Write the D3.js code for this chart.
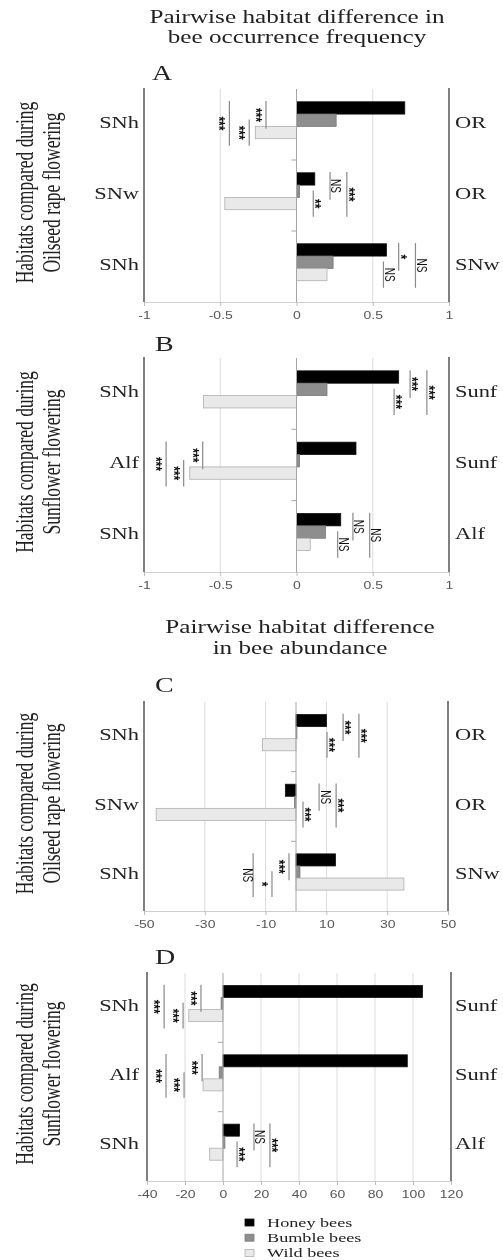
<!DOCTYPE html>
<html>
<head>
<meta charset="utf-8">
<script src="https://cdn.jsdelivr.net/npm/d3@7"></script>
<style>
    body { margin: 0; background: #ffffff; }
    svg { filter: grayscale(100%); }
</style>
</head>
<body>
<div id="chart"></div>
<script>
//Series (bar order inside each row, top to bottom)
var series = ["Honey bees", "Bumble bees", "Wild bees"];

//Panel A - occurrence frequency, oilseed rape flowering
var leftA = ["SNh", "SNw", "SNh"];
var rightA = ["OR", "OR", "SNw"];
var honeyA = [0.71, 0.12, 0.59];
var bumbleA = [0.26, 0.02, 0.24];
var wildA = [-0.27, -0.47, 0.20];
var ticksA = [-1, -0.5, 0, 0.5, 1];

//Panel B - occurrence frequency, sunflower flowering
var leftB = ["SNh", "Alf", "SNh"];
var rightB = ["Sunf", "Sunf", "Alf"];
var honeyB = [0.67, 0.39, 0.29];
var bumbleB = [0.20, 0.02, 0.19];
var wildB = [-0.61, -0.70, 0.09];
var ticksB = [-1, -0.5, 0, 0.5, 1];

//Panel C - abundance, oilseed rape flowering
var leftC = ["SNh", "SNw", "SNh"];
var rightC = ["OR", "OR", "SNw"];
var honeyC = [10, -3.5, 13];
var bumbleC = [0.3, -0.5, 1.3];
var wildC = [-11, -46, 35.5];
var ticksC = [-50, -30, -10, 10, 30, 50];

//Panel D - abundance, sunflower flowering
var leftD = ["SNh", "Alf", "SNh"];
var rightD = ["Sunf", "Sunf", "Alf"];
var honeyD = [105, 97, 8.7];
var bumbleD = [-1, -2, 1];
var wildD = [-18, -10.5, -7];
var ticksD = [-40, -20, 0, 20, 40, 60, 80, 100, 120];

//Significance marks: [row, value where the bracket sits, slot, label]
var sigA = [
    [0, -0.44, "full", "***"], [0, -0.31, "bottom", "***"], [0, -0.20, "top", "***"],
    [1, 0.11, "bottom", "**"], [1, 0.22, "top", "NS"], [1, 0.33, "full", "***"],
    [2, 0.57, "bottom", "NS"], [2, 0.67, "top", "*"], [2, 0.78, "full", "NS"]
];
var sigB = [
    [0, 0.64, "bottom", "***"], [0, 0.745, "top", "***"], [0, 0.855, "full", "***"],
    [1, -0.855, "full", "***"], [1, -0.74, "bottom", "***"], [1, -0.615, "top", "***"],
    [2, 0.27, "bottom", "NS"], [2, 0.37, "top", "NS"], [2, 0.48, "full", "NS"]
];
var sigC = [
    [0, 10.2, "bottom", "***"], [0, 15.5, "top", "***"], [0, 20.7, "full", "***"],
    [1, 2.3, "bottom", "***"], [1, 7.6, "top", "NS"], [1, 13.2, "full", "***"],
    [2, -2.3, "top", "***"], [2, -7.9, "bottom", "*"], [2, -14.1, "full", "NS"]
];
var sigD = [
    [0, -31, "full", "***"], [0, -21, "bottom", "***"], [0, -11.6, "top", "***"],
    [1, -30, "full", "***"], [1, -20.5, "bottom", "***"], [1, -11, "top", "***"],
    [2, 7.4, "bottom", "***"], [2, 16.3, "top", "NS"], [2, 24.7, "full", "***"]
];

var titleFreq = ["Pairwise habitat difference in", "bee occurrence frequency"];
var titleAbund = ["Pairwise habitat difference", "in bee abundance"];
var yTitleOR = ["Habitats compared during", "Oilseed rape flowering"];
var yTitleSunf = ["Habitats compared during", "Sunflower flowering"];

//The original figure is stretched sideways, so text gets the same treatment
var STRETCH = 1.4;
var SERIF = "'Liberation Serif', 'Times New Roman', serif";
var SANS = "'Liberation Sans', Arial, sans-serif";

var fills = d3.scaleOrdinal().domain(series).range(["#000000", "#8e8e8e", "#e9e9e9"]);
var strokes = d3.scaleOrdinal().domain(series).range(["#111111", "#7a7a7a", "#b0b0b0"]);

//Where each bracket sits inside its row band
var slots = { top: [0.17, 0.56], bottom: [0.43, 0.80], full: [0.17, 0.80] };

function stretch_text(parent, x, y, str, size, anchor, family, rot) {
    return parent.append("text")
        .attr("transform", "translate(" + x + "," + y + ") scale(" + STRETCH + ",1)" + (rot ? " rotate(" + rot + ")" : ""))
        .attr("text-anchor", anchor)
        .style("font-family", family)
        .style("font-size", size + "px")
        .attr("fill", "#222")
        .text(str);
}

function draw_panel(svg, p) {
    var lo = p.ticks[0],
        hi = p.ticks[p.ticks.length - 1];

    var x = d3.scaleLinear().domain([lo, hi]).range([p.x0, p.x1]);
    var rows = d3.scaleBand().domain(d3.range(p.left.length)).range([p.y0, p.y1]);
    var bw = rows.bandwidth();
    var sub = d3.scaleBand().domain(series).range([bw * 0.18, bw * 0.70]);

    //Gridlines (inner ticks only)
    svg.append("g").selectAll("line")
        .data(p.ticks.filter(function(t) { return t !== 0 && t !== lo && t !== hi; }))
        .enter().append("line")
        .attr("x1", function(d) { return x(d); })
        .attr("x2", function(d) { return x(d); })
        .attr("y1", p.y0)
        .attr("y2", p.y1)
        .attr("stroke", "#dcdcdc")
        .attr("stroke-width", 1);

    //Bottom axis
    var axis = d3.axisBottom(x)
        .tickValues(p.ticks)
        .tickSize(4)
        .tickSizeOuter(0)
        .tickFormat(function(d) { return String(d); });
    var g = svg.append("g")
        .attr("transform", "translate(0," + p.y1 + ")")
        .call(axis);
    g.select(".domain").attr("stroke", "#cfcfcf");
    g.selectAll(".tick line").attr("stroke", "#bdbdbd");
    g.selectAll(".tick text")
        .attr("y", 10)
        .attr("fill", "#555")
        .attr("transform", "scale(" + STRETCH + ",1)")
        .style("font-family", SANS)
        .style("font-size", "10px");

    //Bars
    var data = [];
    p.values.forEach(function(vals, s) {
        vals.forEach(function(v, i) {
            data.push({ row: i, name: series[s], value: v });
        });
    });
    svg.append("g").selectAll("rect")
        .data(data)
        .enter().append("rect")
        .attr("x", function(d) { return x(Math.min(0, d.value)); })
        .attr("width", function(d) { return Math.abs(x(d.value) - x(0)); })
        .attr("y", function(d) { return rows(d.row) + sub(d.name); })
        .attr("height", sub.bandwidth())
        .attr("fill", function(d) { return fills(d.name); })
        .attr("stroke", function(d) { return strokes(d.name); })
        .attr("stroke-width", 0.8);

    //Zero line and row separators
    svg.append("line")
        .attr("x1", x(0)).attr("x2", x(0))
        .attr("y1", p.y0).attr("y2", p.y1)
        .attr("stroke", "#a6a6a6");
    svg.append("g").selectAll("line")
        .data(d3.range(1, p.left.length))
        .enter().append("line")
        .attr("x1", x(0) - 5).attr("x2", x(0))
        .attr("y1", function(d) { return rows(d); })
        .attr("y2", function(d) { return rows(d); })
        .attr("stroke", "#a6a6a6");

    //Side borders
    [lo, hi].forEach(function(v) {
        svg.append("line")
            .attr("x1", x(v)).attr("x2", x(v))
            .attr("y1", p.y0 - 1).attr("y2", p.y1)
            .attr("stroke", "#808080")
            .attr("stroke-width", 2);
    });

    //Significance brackets
    p.sig.forEach(function(m) {
        var f = slots[m[2]],
            top = rows(m[0]) + f[0] * bw,
            bot = rows(m[0]) + f[1] * bw,
            xx = x(m[1]),
            stars = m[3].charAt(0) === "*";
        svg.append("line")
            .attr("x1", xx).attr("x2", xx)
            .attr("y1", top).attr("y2", bot)
            .attr("stroke", "#8a8a8a")
            .attr("stroke-width", 1.2);
        var t = stretch_text(svg, xx + (m[1] < 0 ? -6 : 6), (top + bot) / 2, m[3], stars ? 12 : 10, "middle", SANS, 90)
            .attr("dominant-baseline", "central")
            .attr("fill", "#111");
        if (stars) {
            //asterisks sit high in the font, pull them back to the centre
            t.attr("dy", "0.25em").style("font-weight", "bold");
        }
    });

    //Row labels
    p.left.forEach(function(lab, i) {
        stretch_text(svg, 139, rows(i) + bw / 2 + 3, lab, 16, "end", SERIF);
    });
    p.right.forEach(function(lab, i) {
        stretch_text(svg, 455, rows(i) + bw / 2 + 3, lab, 16, "start", SERIF);
    });

    //Panel letter
    stretch_text(svg, p.letterX, p.letterY, p.id, 20, "start", SERIF);

    //Y-axis title (two rotated lines)
    var cy = (p.y0 + p.y1) / 2 - 3;
    stretch_text(svg, 33, cy, p.yTitle[0], 17.5, "middle", SERIF, -90);
    stretch_text(svg, 60, cy, p.yTitle[1], 17.5, "middle", SERIF, -90);
}

var svg = d3.select("#chart").append("svg")
    .attr("width", 503)
    .attr("height", 1260);

//Top titles
stretch_text(svg, 297, 23, titleFreq[0], 18, "middle", SERIF);
stretch_text(svg, 297, 43, titleFreq[1], 18, "middle", SERIF);
stretch_text(svg, 300, 633, titleAbund[0], 18, "middle", SERIF);
stretch_text(svg, 300, 654, titleAbund[1], 18, "middle", SERIF);

var panels = [
    { id: "A", left: leftA, right: rightA, values: [honeyA, bumbleA, wildA], ticks: ticksA, sig: sigA,
      yTitle: yTitleOR, x0: 144, x1: 449, y0: 89, y1: 302, letterX: 152, letterY: 80 },
    { id: "B", left: leftB, right: rightB, values: [honeyB, bumbleB, wildB], ticks: ticksB, sig: sigB,
      yTitle: yTitleSunf, x0: 144, x1: 449, y0: 358, y1: 572, letterX: 155, letterY: 351 },
    { id: "C", left: leftC, right: rightC, values: [honeyC, bumbleC, wildC], ticks: ticksC, sig: sigC,
      yTitle: yTitleOR, x0: 144, x1: 448, y0: 702, y1: 911, letterX: 155, letterY: 692 },
    { id: "D", left: leftD, right: rightD, values: [honeyD, bumbleD, wildD], ticks: ticksD, sig: sigD,
      yTitle: yTitleSunf, x0: 147, x1: 451, y0: 973, y1: 1181, letterX: 155, letterY: 964 }
];

panels.forEach(function(p) { draw_panel(svg, p); });

//Legend
var legend = svg.selectAll(".legend")
    .data(series)
    .enter().append("g")
    .attr("class", "legend")
    .attr("transform", function(d, i) { return "translate(245," + (1222.5 + i * 15.2) + ")"; });

legend.append("rect")
    .attr("x", 0)
    .attr("y", -3.5)
    .attr("width", 9)
    .attr("height", 7)
    .attr("fill", fills)
    .attr("stroke", strokes)
    .attr("stroke-width", 0.8);

legend.each(function(d) {
    stretch_text(d3.select(this), 22, 4.5, d, 13, "start", SERIF);
});
</script>
</body>
</html>
